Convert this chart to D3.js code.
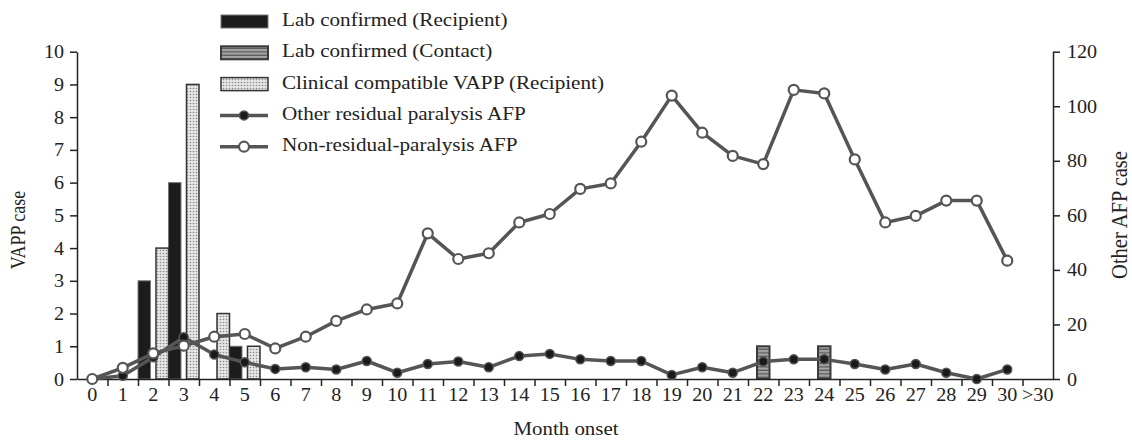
<!DOCTYPE html>
<html>
<head>
<meta charset="utf-8">
<script src="https://cdn.jsdelivr.net/npm/d3@7"></script>
<style>
  body { margin: 0; background: #fff; }
  svg text { font-family: "Liberation Serif", "Times New Roman", serif; fill: #222; }
</style>
</head>
<body>
<div id="chart"></div>
<script>
// month categories on the x axis
const months = d3.range(0, 31).map(String).concat([">30"]);

// VAPP cases (left axis), index = month onset
const labRecipient = [0, 0, 3, 6, 0, 1];
const labContact = { 22: 1, 24: 1 };
const clinicalRecipient = [0, 0, 4, 9, 2, 1];

// other AFP cases (right axis), months 0..30
const otherResidual = [0, 1.2, 8, 15.3, 9, 6.1, 3.7, 4.3, 3.5, 6.6, 2.3, 5.5, 6.4, 4.3, 8.4, 9.2,
  7.2, 6.6, 6.6, 1.5, 4.3, 2.3, 6.4, 7.2, 7.2, 5.5, 3.5, 5.5, 2.3, 0, 3.5];
const nonResidual = [0, 4.1, 9.4, 12.2, 15.5, 16.5, 11.2, 15.5, 21.3, 25.5, 27.7, 53.4, 44, 46.1, 57.4, 60.5,
  69.7, 71.7, 87, 103.9, 90.3, 81.8, 78.8, 106, 104.7, 80.5, 57.4, 59.8, 65.4, 65.4, 43.4];

const legendLabels = [
  "Lab confirmed (Recipient)",
  "Lab confirmed (Contact)",
  "Clinical compatible VAPP (Recipient)",
  "Other residual paralysis AFP",
  "Non-residual-paralysis AFP"
];

const W = 1132, H = 441;
const plot = { left: 77, right: 1053, top: 51.7, bottom: 379 };
const LINE = "#555";
const INK = "#222";
// the original figure's type is a bit wide
const SX_TICK = 1.06, SX_LEGEND = 1.08, SX_TITLE = 1.16;

const svg = d3.select("#chart").append("svg")
  .attr("width", W).attr("height", H);

// fill patterns for the hatched bars
const defs = svg.append("defs");
const dots = defs.append("pattern").attr("id", "dots")
  .attr("patternUnits", "userSpaceOnUse").attr("width", 3).attr("height", 3);
dots.append("rect").attr("width", 3).attr("height", 3).attr("fill", "#e6e6e6");
dots.append("circle").attr("cx", 1.5).attr("cy", 1.5).attr("r", 0.8).attr("fill", "#8a8a8a");

const stripes = defs.append("pattern").attr("id", "stripes")
  .attr("patternUnits", "userSpaceOnUse").attr("width", 4).attr("height", 3.5);
stripes.append("rect").attr("width", 4).attr("height", 3.5).attr("fill", "#a5a5a5");
stripes.append("rect").attr("y", 2.2).attr("width", 4).attr("height", 1.3).attr("fill", "#5a5a5a");

const x = d3.scaleBand().domain(months).range([plot.left, plot.right]).padding(0);
const yL = d3.scaleLinear().domain([0, 10]).range([plot.bottom, plot.top]);
const yR = d3.scaleLinear().domain([0, 120]).range([plot.bottom, plot.top]);

const bw = 12.5; // bar width
const off = 9;   // spacing of the three overlapping series inside a month
const cx = m => x(months[m]) + x.bandwidth() / 2;

const barStyles = [
  { fill: "#1c1c1c", stroke: "#777", sw: 1 },
  { fill: "url(#stripes)", stroke: "#3a3a3a", sw: 2 },
  { fill: "url(#dots)", stroke: "#333", sw: 1.5 }
];

// bars
function bars(data, k) {
  const g = svg.append("g");
  const st = barStyles[k];
  g.selectAll("rect").data(data.filter(d => d.v > 0)).join("rect")
    .attr("x", d => cx(d.m) + (k - 1) * off - bw / 2)
    .attr("width", bw)
    .attr("y", d => yL(d.v))
    .attr("height", d => yL(0) - yL(d.v))
    .attr("fill", st.fill)
    .attr("stroke", st.stroke)
    .attr("stroke-width", st.sw);
}
bars(labRecipient.map((v, m) => ({ m, v })), 0);
bars(Object.keys(labContact).map(m => ({ m: +m, v: labContact[m] })), 1);
bars(clinicalRecipient.map((v, m) => ({ m, v })), 2);

// axes
const axL = svg.append("g").attr("transform", `translate(${plot.left},0)`)
  .call(d3.axisLeft(yL).ticks(10).tickSize(7).tickSizeOuter(0).tickPadding(6));
const axR = svg.append("g").attr("transform", `translate(${plot.right},0)`)
  .call(d3.axisRight(yR).tickValues(d3.range(0, 121, 20)).tickSize(7).tickSizeOuter(0).tickPadding(7));

const xTicks = d3.scaleLinear().domain([0, months.length]).range([plot.left, plot.right]);
const axB = svg.append("g").attr("transform", `translate(0,${plot.bottom})`)
  .call(d3.axisBottom(xTicks).tickValues(d3.range(1, months.length)).tickFormat("").tickSize(7).tickSizeOuter(0));
const axBL = svg.append("g").attr("transform", `translate(0,${plot.bottom})`)
  .call(d3.axisBottom(x).tickSize(0).tickPadding(9));
axBL.select(".domain").remove();

[axL, axR, axB, axBL].forEach(a => {
  a.selectAll(".domain, line").attr("stroke", INK).attr("stroke-width", 1.5);
  a.selectAll("text").attr("font-size", 19).attr("fill", INK)
    .style("font-family", '"Liberation Serif", "Times New Roman", serif')
    .attr("x", function() { return (+d3.select(this).attr("x") || 0) / SX_TICK; })
    .attr("transform", `scale(${SX_TICK},1)`);
});

// lines
const line = d3.line().x((d, i) => cx(i)).y(d => yR(d));
function series(data, filled) {
  svg.append("path").attr("d", line(data))
    .attr("fill", "none").attr("stroke", LINE).attr("stroke-width", 3.5)
    .attr("stroke-linejoin", "round");
  svg.append("g").selectAll("circle").data(data).join("circle")
    .attr("cx", (d, i) => cx(i)).attr("cy", d => yR(d))
    .attr("r", filled ? 4.5 : 5)
    .attr("fill", filled ? "#1a1a1a" : "#fff")
    .attr("stroke", LINE)
    .attr("stroke-width", filled ? 1.5 : 2.2);
}
series(otherResidual, true);
series(nonResidual, false);

// axis titles
svg.append("text").attr("transform", `translate(20,230) rotate(-90) scale(1,${SX_TITLE})`)
  .attr("text-anchor", "middle").attr("dominant-baseline", "middle")
  .attr("font-size", 18).text("VAPP case");
svg.append("text").attr("transform", `translate(1122,215) rotate(-90) scale(1,${SX_TITLE})`)
  .attr("text-anchor", "middle").attr("dominant-baseline", "middle")
  .attr("font-size", 20.5).text("Other AFP case");
svg.append("text").attr("transform", `translate(566,431) scale(${SX_TITLE},1)`)
  .attr("text-anchor", "middle").attr("dominant-baseline", "middle")
  .attr("font-size", 18).text("Month onset");

// legend
const lg = svg.append("g");
const rowY = i => 21.5 + i * 31.3;
legendLabels.forEach((label, i) => {
  const y = rowY(i);
  if (i < 3) {
    const st = barStyles[i];
    lg.append("rect").attr("x", 221).attr("y", y - 6.5).attr("width", 47).attr("height", 13)
      .attr("fill", st.fill).attr("stroke", st.stroke).attr("stroke-width", st.sw);
  } else {
    const filled = i === 3;
    lg.append("line").attr("x1", 220).attr("x2", 268).attr("y1", y).attr("y2", y)
      .attr("stroke", LINE).attr("stroke-width", 3.5);
    lg.append("circle").attr("cx", 244).attr("cy", y).attr("r", filled ? 4.5 : 5)
      .attr("fill", filled ? "#1a1a1a" : "#fff").attr("stroke", LINE)
      .attr("stroke-width", filled ? 1.5 : 2.2);
  }
  lg.append("text").attr("transform", `translate(282,${y}) scale(${SX_LEGEND},1)`)
    .attr("dominant-baseline", "middle")
    .attr("font-size", 19.6).text(label);
});
</script>
</body>
</html>
